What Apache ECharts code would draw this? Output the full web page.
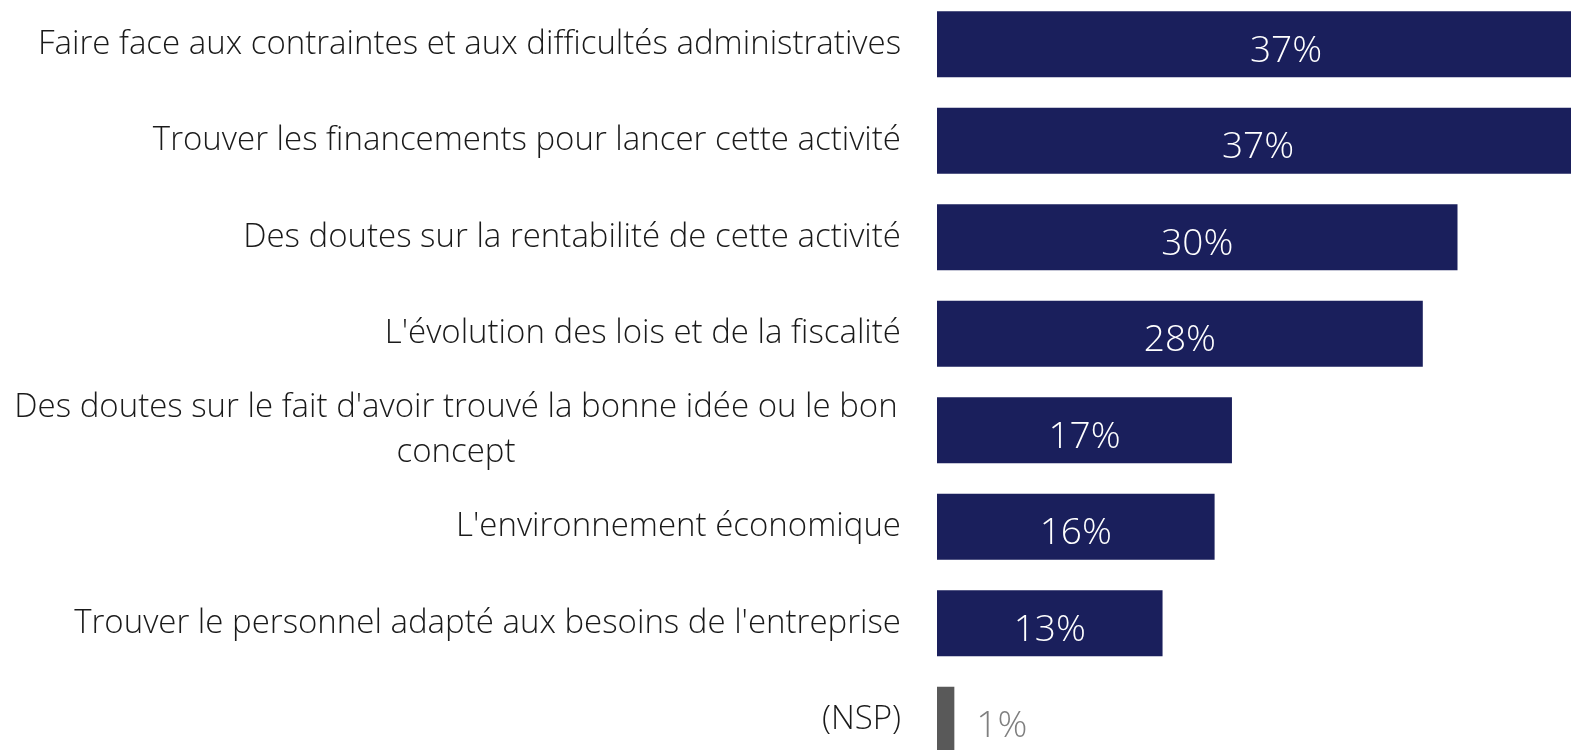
<!DOCTYPE html>
<html>
<head>
<meta charset="utf-8">
<script src="https://cdn.jsdelivr.net/npm/echarts@6/dist/echarts.min.js"></script>
<style>
  html, body { margin: 0; padding: 0; background: #fff; }
  #main { width: 1571px; height: 750px; }
</style>
</head>
<body>
<div id="main"></div>
<script>
const categories = [
  "Faire face aux contraintes et aux difficultés administratives",
  "Trouver les financements pour lancer cette activité",
  "Des doutes sur la rentabilité de cette activité",
  "L'évolution des lois et de la fiscalité",
  "Des doutes sur le fait d'avoir trouvé la bonne idée ou le bon\nconcept",
  "L'environnement économique",
  "Trouver le personnel adapté aux besoins de l'entreprise",
  "(NSP)"
];
const values = [37, 37, 30, 28, 17, 16, 13, 1];

const navy = "#1a1f5c";
const grey = "#595959";
const font = "'Open Sans', sans-serif";

const chart = echarts.init(document.getElementById("main"));

const seriesData = values.map((v, i) => {
  const nsp = i === values.length - 1;
  return {
    value: v,
    itemStyle: { color: nsp ? grey : navy },
    label: nsp
      ? { position: "right", color: "#7f7f7f", distance: 22, offset: [0, 7] }
      : { position: "inside", color: "#ffffff", offset: [i === 0 ? 28 : 0, 7] }
  };
});

chart.setOption({
  animation: false,
  grid: {
    left: 937, top: -4, width: 694, height: 772,
    containLabel: false,
    outerBoundsMode: "none"
  },
  xAxis: {
    type: "value",
    min: 0,
    max: 40,
    show: false
  },
  yAxis: {
    type: "category",
    inverse: true,
    data: categories,
    axisLine: { show: false },
    axisTick: { show: false },
    axisLabel: {
      margin: 36,
      color: "#1a1a1a",
      fontFamily: font,
      fontWeight: 300,
      fontSize: 33,
      lineHeight: 45,
      formatter: function (val) {
        if (val.indexOf("\n") !== -1) {
          return val.split("\n").map(s => "{c|" + s + "}").join("\n");
        }
        return val;
      },
      rich: {
        c: {
          width: 890,
          align: "center",
          color: "#1a1a1a",
          fontFamily: font,
          fontWeight: 300,
          fontSize: 33,
          lineHeight: 45
        }
      }
    }
  },
  series: [{
    type: "bar",
    data: seriesData,
    barCategoryGap: "31.6%",
    label: {
      show: true,
      formatter: "{c}%",
      fontFamily: font,
      fontWeight: 300,
      fontSize: 37
    }
  }]
});
</script>
</body>
</html>
